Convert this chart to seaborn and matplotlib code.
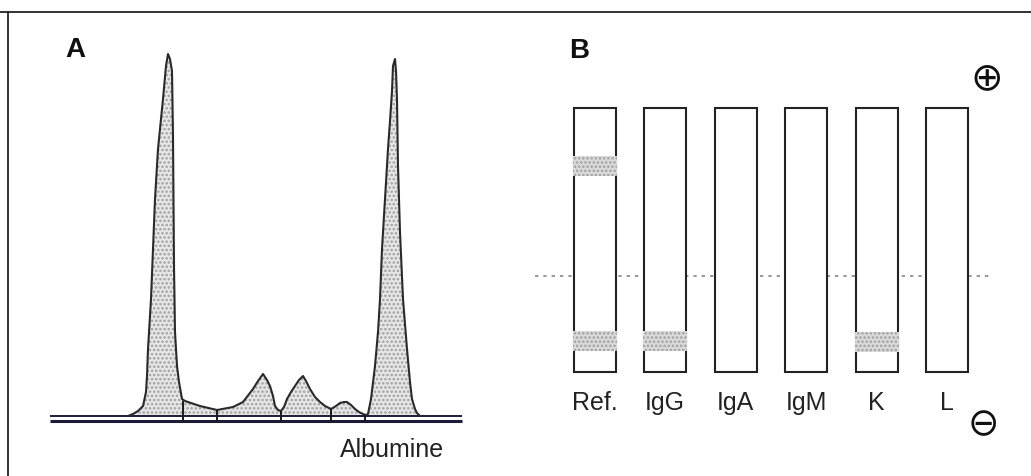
import numpy as np
import matplotlib
matplotlib.use('Agg')
import matplotlib.pyplot as plt
from matplotlib.lines import Line2D
import seaborn as sns

# panel A: densitometry trace (mobility position, density above baseline)
mobility = [128, 133, 138, 143, 146, 147, 148, 151, 153, 155, 158, 163, 166, 168,
            170, 172, 173, 174, 175, 177, 179, 182, 185, 200, 217, 233, 243, 253,
            258, 263, 267, 270, 273, 275, 278, 281, 284, 287, 291, 295, 299, 303,
            306, 310, 315, 320, 325, 331, 336, 340, 344, 347, 351, 355, 359, 363,
            366, 368, 371, 375, 378, 380, 382, 385, 388, 390, 392, 393, 395, 396,
            397, 398, 400, 403, 407, 410, 412, 415, 417, 420]
density = [0, 2, 5, 10, 24, 40, 67, 117, 167, 217, 267, 317, 350, 362,
           357, 345, 280, 150, 84, 50, 34, 17, 15, 10, 6, 9, 14, 27,
           35, 42, 36, 30, 20, 10, 6, 5, 9, 17, 24, 30, 36, 40,
           35, 27, 19, 14, 10, 7, 10, 13, 14, 14, 11, 7, 4, 2,
           1, 2, 17, 50, 84, 117, 167, 217, 267, 295, 325, 350, 357, 345,
           317, 250, 184, 117, 67, 34, 17, 7, 3, 0]
fraction_cuts = [183, 217, 281, 331, 365]
cut_tops = [15, 6, 5, 7, 1]
baseline_span = (50, 462)

# panel B: immunofixation lanes (migration distance from lane top)
lanes = ['Ref.', 'IgG', 'IgA', 'IgM', 'K', 'L']
lane_length = 264
band_lane = [0, 0, 1, 4]
band_start = [48, 223, 223, 224]
band_end = [68, 243, 243, 244]
origin_line = 168

W, H = 1031, 477
sns.set_theme(style='white')
plt.rcParams['font.family'] = ['Liberation Sans', 'DejaVu Sans']
plt.rcParams['hatch.linewidth'] = 1.2

fig = plt.figure(figsize=(W / 100, H / 100), dpi=100)
fig.patch.set_facecolor('white')


def px_axes(x0, y0, x1, y1):
    return fig.add_axes([x0 / W, 1 - y1 / H, (x1 - x0) / W, (y1 - y0) / H])


# ---- A ----
ax = px_axes(40, 30, 480, 470)
ax.fill_between(mobility, 0, density, facecolor='#e6e6e6', hatch='....',
                edgecolor='#a0a0a0', linewidth=0, zorder=1)
sns.lineplot(x=mobility, y=density, estimator=None, sort=False, color='#2a2a2a',
             linewidth=1.5, ax=ax, zorder=3)
ax.hlines([0], *baseline_span, color='#1c1c3a', linewidth=1.4, zorder=2)
ax.hlines([-5], *baseline_span, color='#1c1c3a', linewidth=2.2, zorder=2)
ax.vlines(fraction_cuts, -7, cut_tops, color='#1a1a1a', linewidth=1.4, zorder=4)
ax.text(75, 367, 'A', fontsize=20, fontweight='bold', ha='center', va='center',
        color='#111')
ax.text(392, -33, 'Albumine', fontsize=18, ha='center', va='center', color='#222')
ax.set_xlim(40, 480)
ax.set_ylim(-53, 387)
ax.axis('off')

# ---- B ----
bx = px_axes(520, 20, 1031, 460)
step = 70.5
bx.plot([(535 - 594.5) / step, (993 - 594.5) / step], [origin_line, origin_line],
        color='#888888', linewidth=1.2, linestyle=(0, (2, 3)), zorder=1)
sns.barplot(x=lanes, y=[lane_length] * len(lanes), color='white', saturation=1,
            edgecolor='#222222', linewidth=1.5, width=42 / step, errorbar=None,
            ax=bx, zorder=2)
bx.bar(band_lane, np.array(band_end) - np.array(band_start), bottom=band_start,
       width=44 / step, facecolor='#dadada', hatch='....', edgecolor='#a0a0a0',
       linewidth=0, zorder=3)
for i, name in enumerate(lanes):
    bx.text(i, 294, name, fontsize=18, ha='center', va='center', color='#222')
bx.text(-0.22, -58, 'B', fontsize=20, fontweight='bold', ha='center', va='center',
        color='#111')
bx.text(5.567, -31, '\u2295', fontsize=28, ha='center', va='center',
        family=['DejaVu Sans'], color='#111')
bx.text(5.51, 316, '\u2296', fontsize=27, ha='center', va='center',
        family=['DejaVu Sans'], color='#111')
bx.set_xlim((520 - 594.5) / step, (1031 - 594.5) / step)
bx.set_ylim(351, -89)
bx.axis('off')

# scanned frame edges
fig.add_artist(Line2D([0, 1], [1 - 13 / H, 1 - 13 / H], transform=fig.transFigure,
                      color='#222', linewidth=1.3))
fig.add_artist(Line2D([8 / W, 8 / W], [0, 1 - 13 / H], transform=fig.transFigure,
                      color='#222', linewidth=1.3))

fig.savefig('out.png', dpi=100, facecolor='white')
